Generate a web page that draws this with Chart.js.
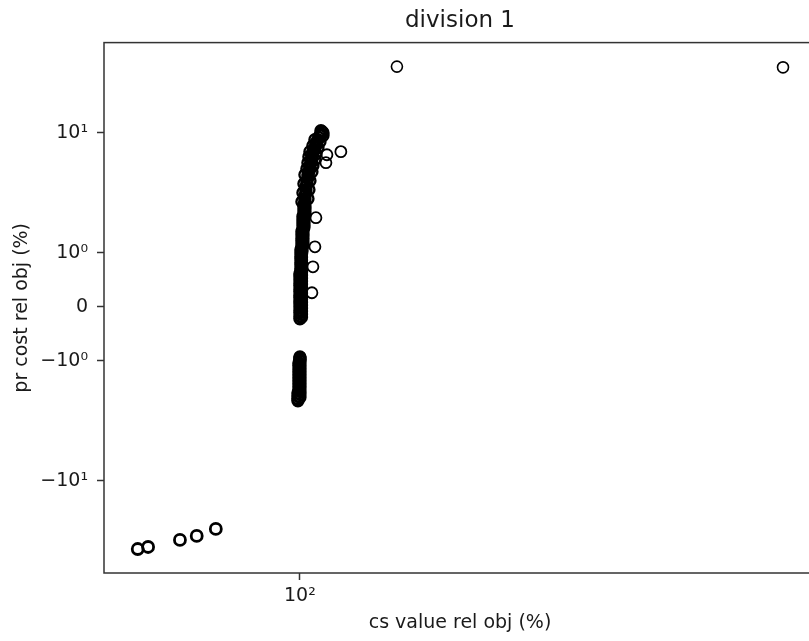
<!DOCTYPE html>
<html>
<head>
<meta charset="utf-8">
<title>division 1</title>
<script src="https://cdn.jsdelivr.net/npm/chart.js@4/dist/chart.umd.min.js"></script>
<style>
  html, body { margin: 0; padding: 0; background: #fff; overflow: hidden; }
  #wrap { width: 830px; height: 641px; position: relative; }
</style>
</head>
<body>
<div id="wrap"><canvas id="chart"></canvas></div>
<script>
// main band, from the top of the column down to just below zero
const bandX = [106.54, 106.24, 105.93, 105.62, 105.32, 105.02, 104.71, 104.71, 104.41, 104.11,
  103.81, 103.81, 103.51, 103.51, 103.22, 102.92, 102.92, 102.62, 102.33, 102.33,
  102.03, 102.03, 101.74, 101.74, 101.74, 101.45, 101.45, 101.45, 101.16, 101.16,
  101.16, 101.16, 100.87, 100.87, 100.87, 100.87, 100.87, 100.58, 100.58, 100.58,
  100.58, 100.58, 100.58, 100.29, 100.29, 100.29, 100.29, 100.29, 100.29, 100.29,
  100.29, 100.0, 100.0, 100.0, 100.0, 100.0, 100.0, 100.0, 100.0, 100.0,
  100.0, 100.0, 100.0, 100.0, 100.0, 100.0, 100.0,
  // left edge of the band
  104.41, 103.81, 102.92, 102.62, 102.33, 102.03, 101.45, 101.16, 100.87, 100.58,
  // right edge of the band
  106.85, 105.93, 105.32, 104.71, 104.41, 103.81, 103.51, 102.92, 102.62, 102.33,
  // heavy cap
  106.85, 106.24];
const bandY = [10.19, 9.81, 9.46, 9.10, 8.75, 8.41, 8.11, 7.80, 7.50, 7.21,
  6.95, 6.68, 6.31, 5.96, 5.62, 5.31, 5.01, 4.73, 4.47, 4.22,
  3.98, 3.76, 3.55, 3.35, 3.16, 2.99, 2.82, 2.66, 2.51, 2.37,
  2.24, 2.11, 2.00, 1.88, 1.78, 1.68, 1.58, 1.50, 1.41, 1.33,
  1.26, 1.19, 1.12, 1.06, 1.00, 0.94, 0.89, 0.83, 0.78, 0.72,
  0.67, 0.61, 0.56, 0.50, 0.44, 0.39, 0.33, 0.28, 0.22, 0.17,
  0.11, 0.06, 0.00, -0.06, -0.11, -0.17, -0.22,
  8.75, 7.80, 6.95, 6.31, 5.62, 5.01, 4.47, 3.76, 3.16, 2.66,
  9.46, 8.41, 7.50, 6.68, 5.96, 5.31, 4.73, 3.98, 3.35, 2.82,
  10.0, 10.4];

// points packed between the band rows in its lower half
const bandMidX = [101.45, 101.45, 101.45, 101.45, 101.16, 101.16, 101.16, 101.16,
  100.87, 100.87, 100.87, 100.87, 100.87, 100.87, 100.58, 100.58,
  100.44, 100.44, 100.44, 100.44, 100.44, 100.44, 100.44, 100.44, 100.44, 100.44, 100.44,
  100.44, 100.44, 100.44, 100.44, 100.44, 100.44, 100.44, 100.44, 100.44, 100.44, 100.44];
const bandMidY = [2.44, 2.30, 2.18, 2.05, 1.94, 1.83, 1.73, 1.63,
  1.54, 1.45, 1.37, 1.30, 1.22, 1.16, 1.09, 1.03,
  0.972, 0.917, 0.861, 0.806, 0.750, 0.694, 0.639, 0.583, 0.528, 0.472, 0.417,
  0.361, 0.306, 0.250, 0.194, 0.139, 0.083, 0.028, -0.028, -0.083, -0.139, -0.194];

// loose points just right of the band
const sideX = [112.5, 108.08, 107.77, 104.71, 104.41, 103.81, 103.51];
const sideY = [6.95, 6.55, 5.62, 1.96, 1.12, 0.74, 0.26];

// small negative group under the band
const lowX = [100.0, 100.0, 99.71, 99.71, 99.71, 99.71, 99.71, 99.71, 99.71, 99.71,
  99.71, 99.71, 99.43, 99.43, 99.43, 99.43,
  100.0, 100.0, 100.0, 100.0, 100.0, 100.0, 100.0, 100.0, 100.0, 100.0, 100.0,
  100.0, 100.0, 100.0];
const lowY = [-0.93, -0.98, -1.04, -1.10, -1.17, -1.24, -1.31, -1.39, -1.47, -1.56,
  -1.65, -1.75, -1.85, -1.96, -2.07, -2.15,
  -0.954, -1.01, -1.069, -1.133, -1.20, -1.271, -1.346, -1.426, -1.511, -1.60, -1.695,
  -1.796, -1.902, -2.015];

const topX = [132.2, 401.6];
const topY = [35.5, 35.0];

const tailX = [62.7, 64.6, 70.8, 74.3, 78.5];
const tailY = [-36.9, -35.5, -31.0, -28.7, -25.1];

const xTickValues = [100];
const xTickLabels = ['10²'];
const yTickValues = [10, 1, 0, -1, -10];
const yTickLabels = ['10¹', '10⁰', '0', '−10⁰', '−10¹'];

// symmetric log: linear inside [-1, 1], log10 outside
const LINSCALE = 0.45;
function symT(v) {
  const a = Math.abs(v);
  if (a <= 1) return v * LINSCALE;
  return Math.sign(v) * (LINSCALE + Math.log10(a));
}
function symInv(t) {
  const a = Math.abs(t);
  if (a <= LINSCALE) return t / LINSCALE;
  return Math.sign(t) * Math.pow(10, a - LINSCALE);
}

class SymlogScale extends Chart.LinearScale {
  static id = 'symlog';
  static defaults = {};
  determineDataLimits() {
    const { min, max } = this.getMinMax(true);
    this.min = min;
    this.max = max;
  }
  buildTicks() {
    return [];
  }
  configure() {
    Chart.Scale.prototype.configure.call(this);
    this._t0 = symT(this.min);
    this._tRange = symT(this.max) - this._t0;
  }
  getLabelForValue(v) {
    return String(v);
  }
  getPixelForValue(v) {
    if (v === null || v === undefined || isNaN(v)) return NaN;
    return this.getPixelForDecimal((symT(v) - this._t0) / this._tRange);
  }
  getValueForPixel(p) {
    return symInv(this._t0 + this.getDecimalForPixel(p) * this._tRange);
  }
}
Chart.register(SymlogScale);

const zip = (xs, ys) => xs.map((x, i) => ({ x: x, y: ys[i] }));

// axes box outline (all four spines)
const frame = {
  id: 'frame',
  afterDraw(chart) {
    const { ctx, chartArea: a } = chart;
    ctx.save();
    ctx.strokeStyle = '#333';
    ctx.lineWidth = 1.5;
    ctx.strokeRect(a.left, a.top, a.right - a.left, a.bottom - a.top);
    ctx.restore();
  }
};

const FONT = '"DejaVu Sans", sans-serif';
const ring = (data, width) => ({
  data: data,
  pointRadius: 5.5,
  pointHoverRadius: 5.5,
  pointBorderWidth: width,
  pointBorderColor: '#000',
  pointBackgroundColor: 'rgba(0,0,0,0)'
});

new Chart(document.getElementById('chart'), {
  type: 'scatter',
  data: {
    datasets: [
      ring(zip(bandX, bandY), 2.4),
      ring(zip(bandMidX, bandMidY), 2.4),
      ring(zip(sideX, sideY), 1.8),
      ring(zip(lowX, lowY), 2.4),
      ring(zip(topX, topY), 1.6),
      ring(zip(tailX, tailY), 2.8)
    ]
  },
  options: {
    responsive: true,
    maintainAspectRatio: false,
    animation: false,
    events: [],
    layout: { padding: { left: 0, right: 14, top: 0, bottom: 0 } },
    plugins: {
      legend: { display: false },
      tooltip: { enabled: false },
      title: {
        display: true,
        text: 'division 1',
        fullSize: false,
        color: '#1a1a1a',
        font: { family: FONT, size: 23, weight: 'normal' },
        padding: { top: 7, bottom: 8 }
      }
    },
    scales: {
      x: {
        type: 'symlog',
        min: 56.9,
        max: 441.6,
        afterFit: axis => { axis.height = 68; },
        afterBuildTicks: axis => { axis.ticks = xTickValues.map(v => ({ value: v })); },
        border: { display: false },
        grid: { drawOnChartArea: false, drawTicks: true, tickLength: 7, tickColor: '#333', tickWidth: 1.5 },
        ticks: {
          autoSkip: false,
          maxRotation: 0,
          padding: 5,
          color: '#1a1a1a',
          font: { family: FONT, size: 19 },
          callback: v => xTickLabels[xTickValues.indexOf(v)]
        },
        title: {
          display: true,
          text: 'cs value rel obj (%)',
          color: '#1a1a1a',
          font: { family: FONT, size: 19 },
          padding: { top: 0, bottom: 7 }
        }
      },
      y: {
        type: 'symlog',
        min: -58.45,
        max: 56.23,
        afterFit: axis => { axis.width = 104; },
        afterBuildTicks: axis => { axis.ticks = yTickValues.map(v => ({ value: v })); },
        border: { display: false },
        grid: { drawOnChartArea: false, drawTicks: true, tickLength: 7, tickColor: '#333', tickWidth: 1.5 },
        ticks: {
          autoSkip: false,
          padding: 9,
          color: '#1a1a1a',
          font: { family: FONT, size: 19 },
          callback: v => yTickLabels[yTickValues.indexOf(v)]
        },
        title: {
          display: true,
          text: 'pr cost rel obj (%)',
          color: '#1a1a1a',
          font: { family: FONT, size: 19 },
          padding: { top: 11, bottom: 0 }
        }
      }
    }
  },
  plugins: [frame]
});
</script>
</body>
</html>
